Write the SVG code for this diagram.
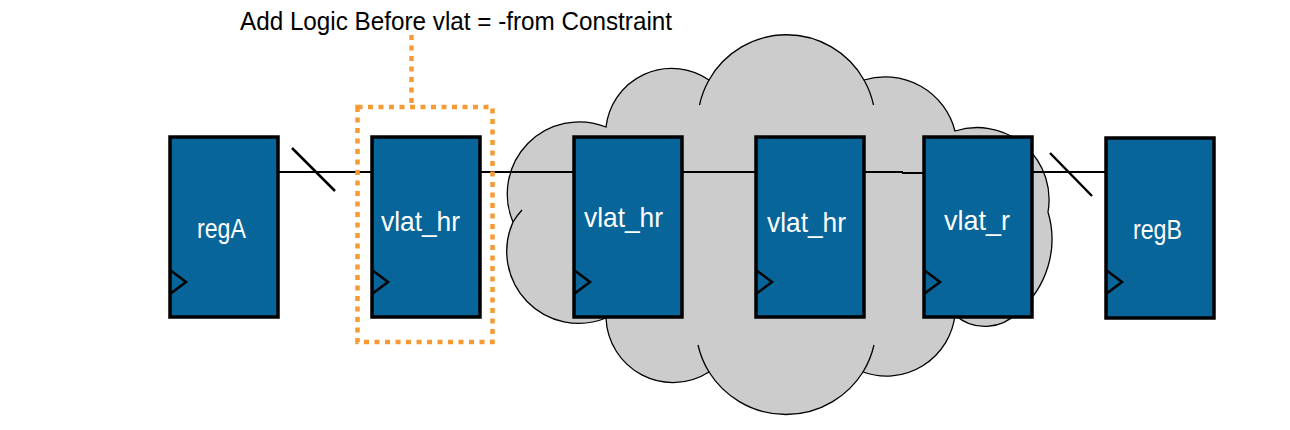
<svg xmlns="http://www.w3.org/2000/svg" width="1290" height="430" viewBox="0 0 1290 430">
  <style>
    .box { fill: #07659A; stroke: #000; stroke-width: 3.5; }
    .clk { fill: none; stroke: #000; stroke-width: 2.5; }
    .lbl { font-family: "Liberation Sans", Arial, sans-serif; font-size: 28px; fill: #fff; }
    .wire { stroke: #000; stroke-width: 2; fill: none; }
    .cloud { fill: #CCCCCC; stroke: #000; stroke-width: 1.3; }
    .stub { fill: none; stroke: #000; stroke-width: 1.3; }
    .dot { fill: none; stroke: #F79A34; stroke-width: 4.5; stroke-dasharray: 5 5.5; }
  </style>

  <g id="cloud">
    <path class="cloud" d="M513,222 A72,72 0 0 1 606,127 A66,66 0 0 1 709,80 A89,89 0 0 1 864,80 A72,72 0 0 1 955,131 A72,72 0 0 1 1048,212 A95,95 0 0 1 1018,312 A45,45 0 0 1 955,315 A69,69 0 0 1 863,372 A91,91 0 0 1 709,372 A67,67 0 0 1 606,318 A72,72 0 0 1 513,222 Z"/>
    <path class="stub" d="M709,80 A89,89 0 0 0 699.5,105"/>
    <path class="stub" d="M864,80 A89,89 0 0 1 873.5,105"/>
    <path class="stub" d="M863,372 A91,91 0 0 0 874,345"/>
    <path class="stub" d="M709,372 A91,91 0 0 1 698,345"/>
    <path class="stub" d="M513,222 A72,72 0 0 1 522,210"/>
  </g>

  <g id="connectors">
    <line class="wire" x1="278" y1="172" x2="372" y2="172"/>
    <line class="wire" x1="292" y1="148" x2="335" y2="191" style="stroke-width:2.5"/>
    <line class="wire" x1="480" y1="172" x2="574" y2="172"/>
    <line class="wire" x1="682" y1="172" x2="756" y2="172"/>
    <line class="wire" x1="864" y1="172" x2="903" y2="172"/>
    <line class="wire" x1="902" y1="173" x2="924" y2="173"/>
    <line class="wire" x1="1032" y1="172" x2="1106" y2="172"/>
    <line class="wire" x1="1050" y1="153" x2="1092" y2="196" style="stroke-width:2.5"/>
  </g>

  <g id="regA">
    <rect class="box" x="170" y="137" width="108" height="180"/>
    <polyline class="clk" points="170,270 186,282 170,294"/>
    <text class="lbl" x="197" y="238" textLength="49" lengthAdjust="spacingAndGlyphs">regA</text>
  </g>
  <g id="vlat_hr_1">
    <rect class="box" x="372" y="137" width="108" height="180"/>
    <polyline class="clk" points="372,270 388,282 372,294"/>
    <text class="lbl" x="381" y="231" textLength="79" lengthAdjust="spacingAndGlyphs">vlat_hr</text>
  </g>
  <g id="vlat_hr_2">
    <rect class="box" x="574" y="137" width="108" height="180"/>
    <polyline class="clk" points="574,270 590,282 574,294"/>
    <text class="lbl" x="584" y="227" textLength="79" lengthAdjust="spacingAndGlyphs">vlat_hr</text>
  </g>
  <g id="vlat_hr_3">
    <rect class="box" x="756" y="137" width="108" height="180"/>
    <polyline class="clk" points="756,270 772,282 756,294"/>
    <text class="lbl" x="767" y="232" textLength="79" lengthAdjust="spacingAndGlyphs">vlat_hr</text>
  </g>
  <g id="vlat_r">
    <rect class="box" x="924" y="137" width="108" height="180"/>
    <polyline class="clk" points="924,270 940,282 924,294"/>
    <text class="lbl" x="944" y="230" textLength="66" lengthAdjust="spacingAndGlyphs">vlat_r</text>
  </g>
  <g id="regB">
    <rect class="box" x="1106" y="138" width="108" height="180"/>
    <polyline class="clk" points="1106,270 1122,282 1106,294"/>
    <text class="lbl" x="1133" y="239" textLength="49" lengthAdjust="spacingAndGlyphs">regB</text>
  </g>

  <g id="annotation">
    <line class="dot" x1="411.5" y1="35" x2="411.5" y2="105"/>
    <rect class="dot" x="357.5" y="107" width="135" height="235"/>
    <text x="240" y="30" textLength="432" lengthAdjust="spacingAndGlyphs" style="font-family:'Liberation Sans',Arial,sans-serif;font-size:26px;fill:#000">Add Logic Before vlat = -from Constraint</text>
  </g>
</svg>
